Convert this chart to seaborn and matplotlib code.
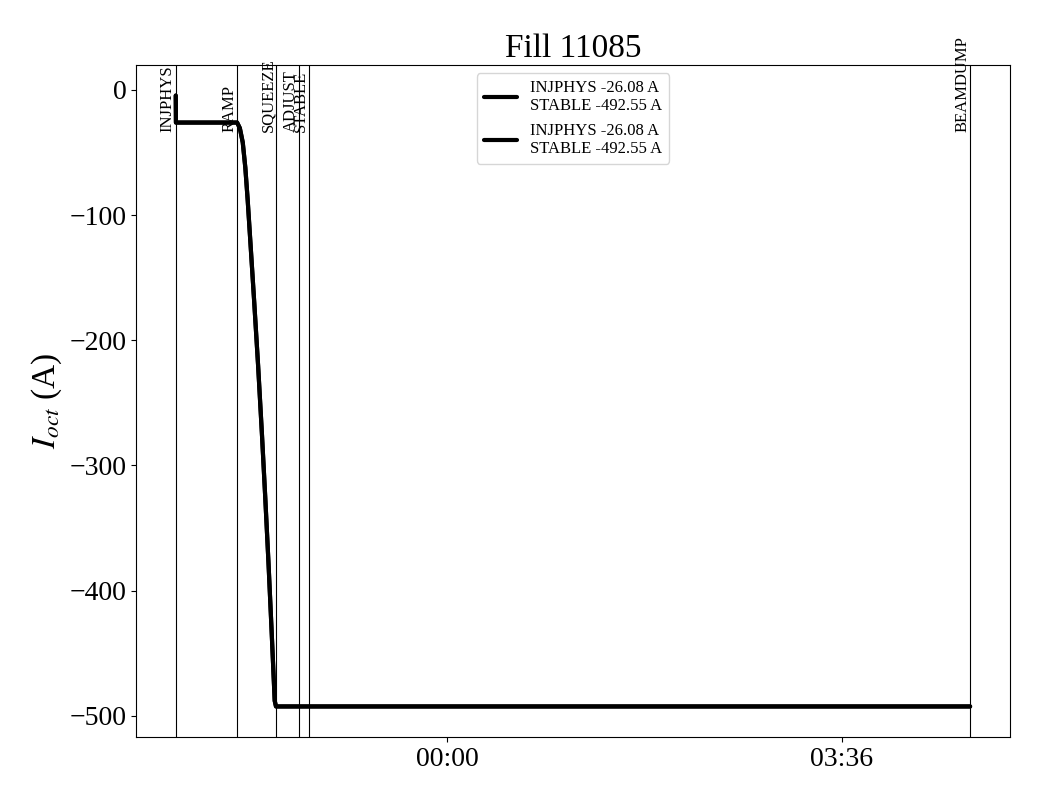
import pandas as pd
import numpy as np
import matplotlib
matplotlib.use("Agg")
import matplotlib.pyplot as plt
import matplotlib.dates as mdates
import seaborn as sns

# fill data (minutes relative to 00:00, current in A)
fill_no = 11085
t_min = [-148.7, -148.6, -115.1, -113.6, -112.0, -110.6, -109.3, -107.8,
         -105.7, -103.6, -101.5, -99.7, -97.9, -96.2, -94.5, -93.8, 286.4]
i_oct = [-4.5, -26.08, -26.08, -30.5, -42.0, -62.0, -88.0, -122.0,
         -170.0, -220.0, -274.8, -325.0, -378.0, -432.0, -488.0, -492.55, -492.55]

modes = ["INJPHYS", "RAMP", "SQUEEZE", "ADJUST", "STABLE", "BEAMDUMP"]
mode_min = [-148.7, -115.1, -93.8, -81.2, -75.9, 286.4]

tick_min = [0, 216]

base = pd.Timestamp("2025-08-20 00:00")
df = pd.DataFrame({
    "time": base + pd.to_timedelta(t_min, unit="m"),
    "I": i_oct,
})
mode_times = base + pd.to_timedelta(mode_min, unit="m")

sns.set_style("ticks", {"axes.edgecolor": "black", "text.color": "black",
                        "axes.labelcolor": "black", "xtick.color": "black",
                        "ytick.color": "black"})
plt.rcParams['font.family'] = ['Liberation Serif', 'DejaVu Serif']
plt.rcParams['mathtext.fontset'] = 'stix'

fig, ax = plt.subplots(figsize=(10.4, 8), dpi=100)
fig.subplots_adjust(left=0.1308, right=0.971, top=0.91875, bottom=0.07875)

lab = "INJPHYS %.2f A\nSTABLE %.2f A" % (i_oct[1], i_oct[-1])
sns.lineplot(data=df, x="time", y="I", color="black", lw=3, label=lab, ax=ax)
sns.lineplot(data=df, x="time", y="I", color="black", lw=3, label=lab, ax=ax)

for name, t in zip(modes, mode_times):
    ax.axvline(t, color="black", lw=0.8)
    ax.text(t, -34, name, rotation=90, ha="right", va="bottom", fontsize=12)

ax.set_xticks(base + pd.to_timedelta(tick_min, unit="m"))
ax.xaxis.set_major_formatter(mdates.DateFormatter("%H:%M"))
ax.tick_params(labelsize=20)
ax.set_xlabel("")
ax.set_ylabel(r"$I_{oct}$ (A)", fontsize=24)
ax.set_title("Fill %d" % fill_no, fontsize=24)
ax.legend(loc="upper center", fontsize=12)

plt.savefig("out.png")
